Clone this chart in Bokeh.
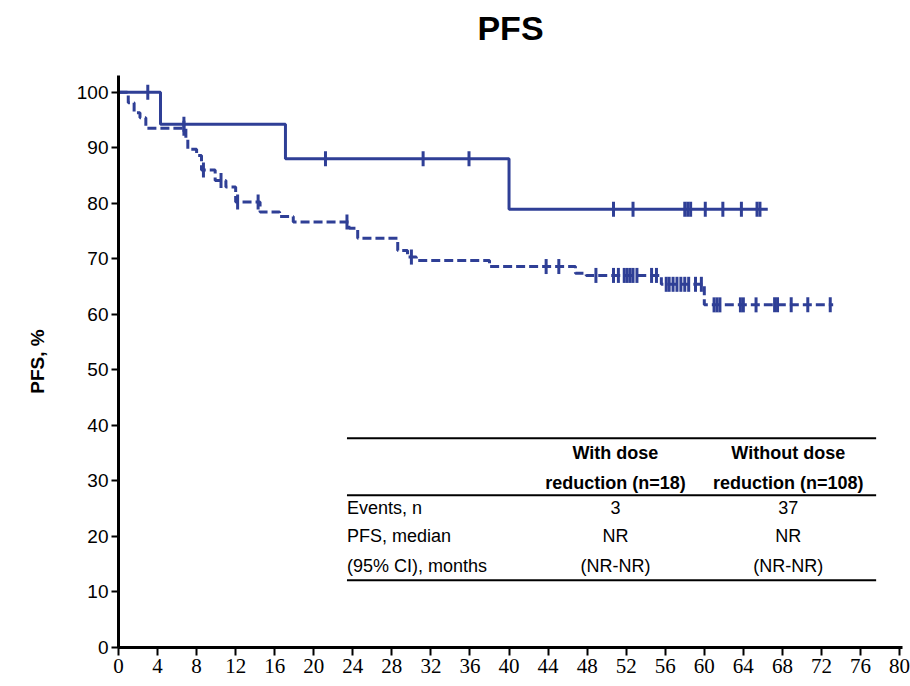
import numpy as np
from bokeh.plotting import figure
from bokeh.models import FixedTicker, Label, Title, Range1d
from bokeh.embed import file_html
from bokeh.resources import INLINE

BLUE = "#2f3f96"

# With dose reduction (n=18): step times (months) and PFS (%)
with_t = [0, 4.3, 17.1, 40.0, 66.5]
with_s = [100, 94.2, 88.0, 78.9, 78.9]
with_cens = [3.0, 6.7, 21.2, 31.2, 35.9, 50.7, 52.7, 58.0, 58.3, 58.6,
             60.1, 61.9, 63.8, 65.4, 65.7]

# Without dose reduction (n=108)
without_t = [0, 1.0, 1.6, 2.2, 2.8, 6.9, 7.1, 8.0, 8.5, 9.9, 11.0, 12.0,
             14.5, 16.5, 17.9, 23.6, 24.5, 28.6, 29.6, 30.5, 38.0, 46.8,
             47.9, 55.6, 60.0, 73.2]
without_s = [100, 98.1, 96.3, 95.4, 93.5, 91.6, 89.7, 88.6, 86.0, 84.1,
             82.9, 80.2, 78.4, 77.6, 76.6, 75.5, 73.7, 71.5, 70.3, 69.7,
             68.6, 67.4, 67.0, 65.4, 61.7, 61.7]
without_cens = [6.7, 8.7, 10.5, 12.2, 14.3, 23.4, 30.0, 43.8, 45.1, 48.9,
                50.7, 51.2, 51.8, 52.1, 52.4, 52.7, 53.1, 54.6, 55.1, 56.1,
                56.4, 56.8, 57.2, 57.6, 58.0, 58.4, 59.1, 59.7, 61.0, 61.3,
                61.6, 63.7, 64.0, 65.3, 67.2, 67.5, 68.9, 70.6, 72.9]

x_ticks = list(range(0, 81, 4))
y_ticks = list(range(0, 101, 10))

title_text = "PFS"
table_rows = ["Events, n", "PFS, median", "(95% CI), months"]
col_with = ["3", "NR", "(NR-NR)"]
col_without = ["37", "NR", "(NR-NR)"]
head_with = ["With dose", "reduction (n=18)"]
head_without = ["Without dose", "reduction (n=108)"]


def step_at(t, s, c):
    idx = np.searchsorted(np.array(t), np.array(c), side="right") - 1
    return list(np.array(s)[idx])


p = figure(width=910, height=686, output_backend="svg", toolbar_location=None,
           x_range=Range1d(0, 80.3), y_range=Range1d(0, 103),
           min_border_left=118, min_border_right=8, min_border_top=75,
           min_border_bottom=39)
p.outline_line_color = None
p.xgrid.visible = False
p.ygrid.visible = False

p.title = Title(text=title_text, align="center", text_font="Liberation Sans",
                text_font_size="34px", text_font_style="bold",
                text_color="black", standoff=10, vertical_align="top")
# spacer between title and frame
p.add_layout(Title(text=" ", text_font_size="10px", standoff=9), "above")

p.step(with_t, with_s, mode="after", line_color=BLUE, line_width=3)
p.step(without_t, without_s, mode="after", line_color=BLUE, line_width=3,
       line_dash="9 4")

p.scatter(with_cens, step_at(with_t, with_s, with_cens), marker="dash",
          angle=np.pi / 2, size=15, line_color=BLUE, line_width=3)
p.scatter(without_cens, step_at(without_t, without_s, without_cens),
          marker="dash", angle=np.pi / 2, size=15, line_color=BLUE,
          line_width=3)

for ax in (p.xaxis, p.yaxis):
    ax.axis_line_width = 3
    ax.axis_line_color = "black"
    ax.major_tick_line_width = 2
    ax.major_tick_line_color = "black"
    ax.major_tick_in = 0
    ax.minor_tick_line_color = None

p.xaxis.ticker = FixedTicker(ticks=x_ticks)
p.xaxis.major_tick_out = 8
p.xaxis.major_label_text_font = "Liberation Sans Narrow"
p.xaxis.major_label_text_font_size = "21px"
p.xaxis.major_label_text_color = "black"
p.xaxis.major_label_standoff = 3

p.yaxis.ticker = FixedTicker(ticks=y_ticks)
p.yaxis.major_tick_out = 7
p.yaxis.major_label_text_font = "Liberation Sans"
p.yaxis.major_label_text_font_size = "19px"
p.yaxis.major_label_text_color = "black"
p.yaxis.major_label_standoff = 3
p.yaxis.axis_label = "PFS, %"
p.yaxis.axis_label_text_font = "Liberation Sans"
p.yaxis.axis_label_text_font_size = "19px"
p.yaxis.axis_label_text_font_style = "bold"
p.yaxis.axis_label_text_color = "black"
p.yaxis.axis_label_standoff = 26

# Table (layout positions in data units)
tx0, tx1 = 23.4, 77.6
p.segment(x0=[tx0, tx0, tx0], x1=[tx1, tx1, tx1], y0=[37.7, 27.4, 12.1],
          y1=[37.7, 27.4, 12.1], line_color="black", line_width=2)

cw, cwo = 50.9, 68.6
for i, yy in enumerate([35.0, 29.7]):
    for xx, txt in ((cw, head_with[i]), (cwo, head_without[i])):
        p.add_layout(Label(x=xx, y=yy, text=txt, text_align="center",
                           text_baseline="middle", text_font="Liberation Sans",
                           text_font_size="18px", text_font_style="bold",
                           text_color="black"))
for i, yy in enumerate([25.2, 20.0, 14.6]):
    p.add_layout(Label(x=tx0, y=yy, text=table_rows[i], text_align="left",
                       text_baseline="middle", text_font="Liberation Sans",
                       text_font_size="18px", text_color="black"))
    p.add_layout(Label(x=cw, y=yy, text=col_with[i], text_align="center",
                       text_baseline="middle", text_font="Liberation Sans",
                       text_font_size="18px", text_color="black"))
    p.add_layout(Label(x=cwo, y=yy, text=col_without[i], text_align="center",
                       text_baseline="middle", text_font="Liberation Sans",
                       text_font_size="18px", text_color="black"))

open("out.html", "w").write(file_html(p, INLINE))
